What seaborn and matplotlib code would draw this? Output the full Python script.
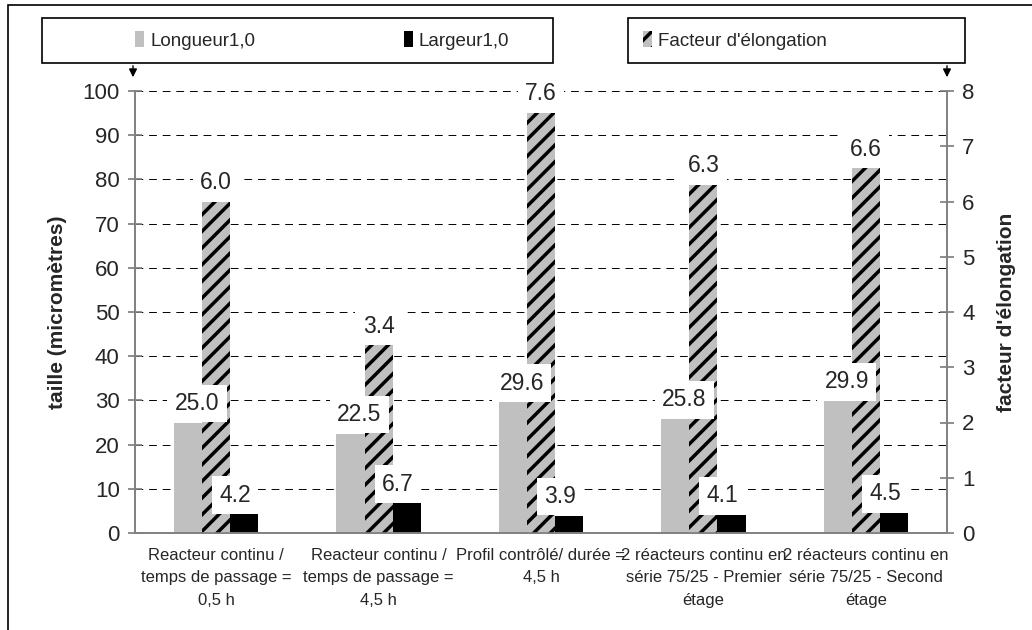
import matplotlib.pyplot as plt
import matplotlib.patches as mpatches
import numpy as np
import pandas as pd
import seaborn as sns

CATEGORIES = [
    "Reacteur continu /\ntemps de passage =\n0,5 h",
    "Reacteur continu /\ntemps de passage =\n4,5 h",
    "Profil contrôlé/ durée =\n4,5 h",
    "2 réacteurs continu en\nsérie 75/25 - Premier\nétage",
    "2 réacteurs continu en\nsérie 75/25 - Second\nétage",
]
LONGUEUR = [25.0, 22.5, 29.6, 25.8, 29.9]
LARGEUR = [4.2, 6.7, 3.9, 4.1, 4.5]
FACTEUR = [6.0, 3.4, 7.6, 6.3, 6.6]

SERIES = ["Longueur1,0", "Facteur d'élongation", "Largeur1,0"]
COLORS = {"Longueur1,0": "#c0c0c0", "Facteur d'élongation": "#c0c0c0", "Largeur1,0": "#000000"}
SPINE_COLOR = "#808080"

sns.set_theme(style="white")
plt.rcParams['font.family'] = ['Liberation Sans', 'DejaVu Sans']
plt.rcParams['hatch.linewidth'] = 2.5

size_df = pd.DataFrame({
    'categorie': CATEGORIES * 2,
    'serie': [SERIES[0]] * len(CATEGORIES) + [SERIES[2]] * len(CATEGORIES),
    'valeur': LONGUEUR + LARGEUR,
})
elong_df = pd.DataFrame({
    'categorie': CATEGORIES,
    'serie': [SERIES[1]] * len(CATEGORIES),
    'valeur': FACTEUR,
})

fig = plt.figure(figsize=(10.32, 6.3), dpi=100)
ax = fig.add_axes([135 / 1032, 97 / 630, 812 / 1032, 442 / 630])
ax2 = ax.twinx()

bar_kw = dict(x='categorie', y='valeur', hue='serie', hue_order=SERIES, order=CATEGORIES,
              palette=COLORS, width=0.52, dodge=True, saturation=1, errorbar=None,
              legend=False, linewidth=0)
sns.barplot(data=size_df, ax=ax, **bar_kw)
sns.barplot(data=elong_df, ax=ax2, **bar_kw)

for bar in ax2.patches:
    bar.set_hatch('//')
    bar.set_edgecolor('black')
    bar.set_linewidth(0)

ax.set_ylim(0, 100)
ax2.set_ylim(0, 8)
ax.set_xlim(-0.5, len(CATEGORIES) - 0.5)
ax.set_yticks(np.arange(0, 101, 10))
ax2.set_yticks(np.arange(0, 9, 1))

# category ticks sit between groups, labels in the middle
ax.set_xticks(np.arange(-0.5, len(CATEGORIES), 1), labels=[])
ax.set_xticks(np.arange(len(CATEGORIES)), labels=CATEGORIES, minor=True)
ax.tick_params(axis='x', which='major', direction='out', length=5, color=SPINE_COLOR)
ax.tick_params(axis='x', which='minor', length=0, pad=11, labelsize=12)
for lbl in ax.get_xticklabels(minor=True):
    lbl.set_linespacing(1.6)
ax.set_xlabel('')
ax2.set_xlabel('')

ax.tick_params(axis='y', direction='inout', length=10, color=SPINE_COLOR, labelsize=16, pad=6)
ax2.tick_params(axis='y', direction='inout', length=10, color=SPINE_COLOR, labelsize=16, pad=6)

ax.yaxis.grid(True, linestyle=(0, (8, 6)), color='black', linewidth=0.7)
ax.set_axisbelow(True)

for a in (ax, ax2):
    a.spines['top'].set_visible(False)
    for side in ('left', 'right', 'bottom'):
        a.spines[side].set_color(SPINE_COLOR)
        a.spines[side].set_linewidth(1.2)

ax.set_ylabel('taille (micromètres)', fontsize=15, fontweight='bold', labelpad=11)
ax2.set_ylabel("facteur d'élongation", fontsize=15, fontweight='bold', labelpad=16)

label_box = dict(boxstyle='square,pad=0.32', fc='white', ec='none')
# size labels are drawn on the top axes so their boxes cover the hatched bars;
# they lean slightly towards the middle of their group
for bar in ax.patches:
    xc = bar.get_x() + bar.get_width() / 2
    shift = -6.5 if xc > round(xc) else 6.5
    ax2.annotate(f"{bar.get_height():.1f}", xy=(xc, bar.get_height()),
                 xycoords=ax.transData, xytext=(shift, 5.5), textcoords='offset points',
                 ha='center', va='bottom', fontsize=16.5, bbox=label_box, zorder=5)
for bar in ax2.patches:
    ax2.annotate(f"{bar.get_height():.1f}", xy=(bar.get_x() + bar.get_width() / 2, bar.get_height()),
                 xytext=(0, 5.5), textcoords='offset points',
                 ha='center', va='bottom', fontsize=16.5, bbox=label_box, zorder=5)

# outer frame and legend boxes
fig.add_artist(mpatches.Rectangle((8 / 1032, -0.1), 1.2, 1.1 - 5 / 630, transform=fig.transFigure,
                                  fill=False, ec='black', lw=1.2))
fig.add_artist(mpatches.Rectangle((42 / 1032, 1 - 63 / 630), 511 / 1032, 45 / 630,
                                  transform=fig.transFigure, fill=False, ec='black', lw=1.2))
fig.add_artist(mpatches.Rectangle((628 / 1032, 1 - 63 / 630), 337 / 1032, 45 / 630,
                                  transform=fig.transFigure, fill=False, ec='black', lw=1.2))

handles = [
    mpatches.Patch(facecolor=COLORS[SERIES[0]], lw=0),
    mpatches.Patch(facecolor=COLORS[SERIES[2]], lw=0),
    mpatches.Patch(facecolor=COLORS[SERIES[1]], hatch='//', edgecolor='black', lw=0),
]
legend_pos = [135, 404, 643]
for h, name, xpos in zip(handles, [SERIES[0], SERIES[2], SERIES[1]], legend_pos):
    fig.legend(handles=[h], labels=[name], loc='center left',
               bbox_to_anchor=(xpos / 1032, 1 - 40.5 / 630), frameon=False,
               fontsize=13.5, handlelength=0.5, handleheight=0.9, handletextpad=0.3,
               borderpad=0, borderaxespad=0)

for xpos in (133, 947):
    fig.add_artist(mpatches.FancyArrowPatch((xpos / 1032, 1 - 63 / 630), (xpos / 1032, 1 - 80 / 630),
                                            transform=fig.transFigure, arrowstyle='-|>',
                                            mutation_scale=12, color='black', lw=1))

fig.savefig('out.png', dpi=100)
